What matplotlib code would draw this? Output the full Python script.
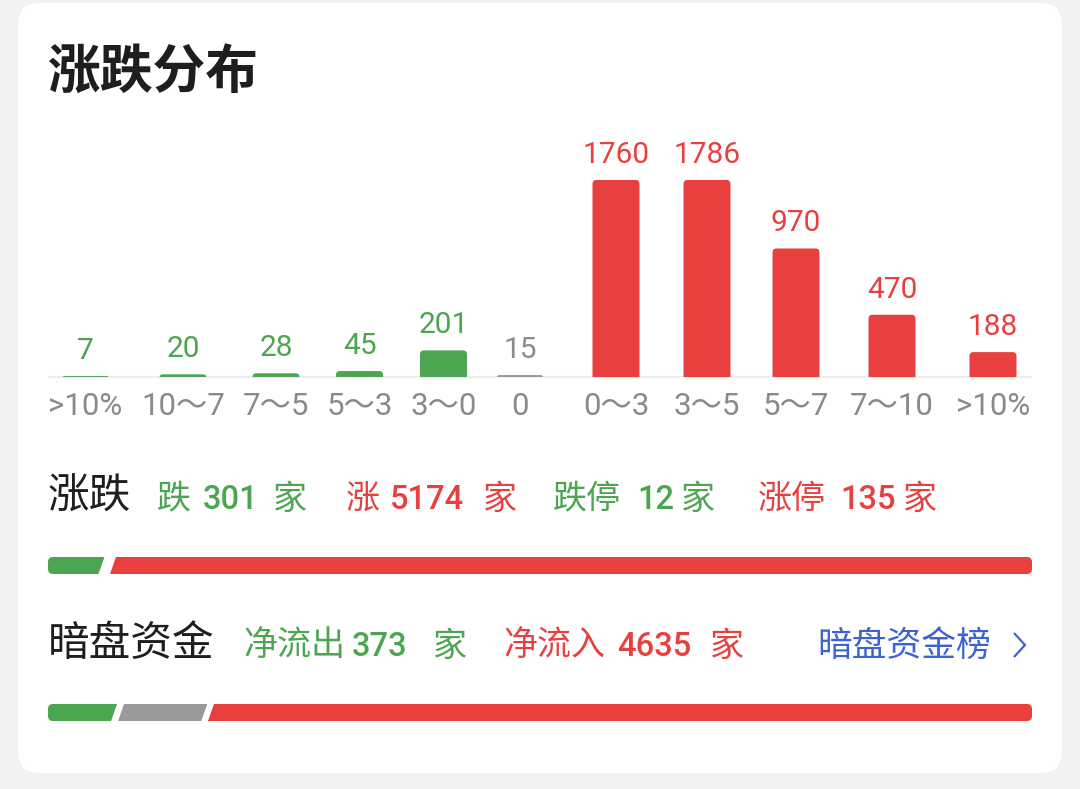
import matplotlib
matplotlib.use("Agg")
import matplotlib.pyplot as plt
from matplotlib.patches import FancyBboxPatch, Polygon
from matplotlib.lines import Line2D
import numpy as np

# ---------------- data ----------------
categories = [">10%", "10～7", "7～5", "5～3", "3～0", "0", "0～3", "3～5", "5～7", "7～10", ">10%"]
counts = [7, 20, 28, 45, 201, 15, 1760, 1786, 970, 470, 188]
direction = ["down", "down", "down", "down", "down", "flat", "up", "up", "up", "up", "up"]

title = "涨跌分布"
row1_label = "涨跌"
fall_count = 301
rise_count = 5174
limit_down_count = 12
limit_up_count = 135

row2_label = "暗盘资金"
net_out_count = 373
net_in_count = 4635
neutral_flow_count = 470  # unlabeled grey segment, estimated from its width
link_text = "暗盘资金榜"

# ---------------- style / layout ----------------
RED = "#E8403F"
GREEN = "#4CA550"
GREY_BAR = "#9A9A9A"
GREY_TXT = "#8A8A8A"
BLUE = "#3D62D3"
DARK = "#1E1E1E"
color_of = {"down": GREEN, "flat": "#8C8C8C", "up": RED}

x_centers = [85.5, 183, 276, 359.5, 443.5, 520, 616, 707, 796, 892, 993]  # px
bar_width = 47
px_per_unit = 0.1325
display_cap = 1487          # tallest bars are drawn at a fixed maximum height
base_px = 377               # baseline (pixel from top)
top_px = 120

CJK = ["Noto Sans CJK SC", "DejaVu Sans"]
NUM = ["Roboto", "Noto Sans CJK SC", "DejaVu Sans"]

W, H = 1080, 789
fig = plt.figure(figsize=(W / 100, H / 100), dpi=100)
fig.patch.set_facecolor("#F2F2F2")

bg = fig.add_axes([0, 0, 1, 1])
bg.set_xlim(0, W)
bg.set_ylim(H, 0)
bg.axis("off")

# card
bg.add_patch(FancyBboxPatch((18, 3), 1044, 770, boxstyle="round,pad=0,rounding_size=22",
                            fc="white", ec="none", zorder=0))

# title
bg.text(48, 88, title, fontsize=38, fontweight="bold", color=DARK, family=CJK,
        ha="left", va="baseline")

# baseline of bar chart
bg.plot([48, 1032], [base_px, base_px], color="#EDEDED", lw=1.6, solid_capstyle="butt", zorder=1)

# ---------------- bar chart ----------------
ax_h_px = base_px - top_px
ax = fig.add_axes([0, (H - base_px) / H, 1, ax_h_px / H])
ax.patch.set_alpha(0)
ax.axis("off")
ax.set_xlim(0, W)
ytop = ax_h_px / px_per_unit
ax.set_ylim(0, ytop)
asp = ytop / ax_h_px  # data units (y) per pixel; x is 1 unit per pixel

bar_colors = [GREY_BAR if d == "flat" else color_of[d] for d in direction]
disp = np.minimum(np.array(counts, dtype=float), display_cap)
bars = ax.bar(x_centers, disp, width=bar_width, color=bar_colors)
r = 4.0
for b in bars:
    b.set_visible(False)
    x, w, h = b.get_x(), b.get_width(), b.get_height()
    h_px = h / asp
    total_px = h_px + r
    r_eff = min(r, total_px / 2.0)
    p = FancyBboxPatch((x, -r * asp), w, h + r * asp,
                       boxstyle=f"round,pad=0,rounding_size={r_eff}",
                       mutation_aspect=asp, fc=b.get_facecolor(), ec="none")
    ax.add_patch(p)

for xc, v, d, dv, lab in zip(x_centers, counts, direction, disp, categories):
    ax.annotate(str(v), (xc, dv), xytext=(0, 17 * 0.72), textcoords="offset points",
                ha="center", va="baseline", fontsize=21.5, color=color_of[d], family=NUM,
                annotation_clip=False)
    ax.annotate(lab, (xc, 0), xytext=(0, -38 * 0.72), textcoords="offset points",
                ha="center", va="baseline", fontsize=22.5, color=GREY_TXT, family=NUM,
                annotation_clip=False)

# ---------------- text rows ----------------
def cjk(x, y, s, color, size=24.5):
    bg.text(x, y, s, fontsize=size, color=color, family=CJK, ha="left", va="baseline")

def num(x, y, s, color, size=23.5):
    bg.text(x, y, s, fontsize=size, color=color, family=NUM, fontweight="medium",
            ha="left", va="baseline")

y1 = 509
bg.text(48, y1, row1_label, fontsize=30, color=DARK, family=CJK, ha="left", va="baseline")
cjk(157, y1, "跌", GREEN); num(203, y1, str(fall_count), GREEN); cjk(273, y1, "家", GREEN)
cjk(346, y1, "涨", RED); num(390, y1, str(rise_count), RED); cjk(483, y1, "家", RED)
cjk(553, y1, "跌停", GREEN); num(637, y1, str(limit_down_count), GREEN); cjk(681, y1, "家", GREEN)
cjk(758, y1, "涨停", RED); num(840, y1, str(limit_up_count), RED); cjk(903, y1, "家", RED)

y2 = 656
bg.text(48, y2, row2_label, fontsize=30, color=DARK, family=CJK, ha="left", va="baseline")
cjk(243, y2, "净流出", GREEN); num(352, y2, str(net_out_count), GREEN); cjk(433, y2, "家", GREEN)
cjk(503, y2, "净流入", RED); num(617, y2, str(net_in_count), RED); cjk(710, y2, "家", RED)
cjk(817, y2, link_text, BLUE, size=25)
bg.add_line(Line2D([1014, 1025, 1014], [633, 645, 657], color=BLUE, lw=1.6,
                   solid_joinstyle="miter", solid_capstyle="butt"))

# ---------------- segmented progress bars ----------------
def seg_bar(values, colors, y_top, y_bot, gap, slant, x0=48, x1=1032, rr=5):
    vals = np.array(values, dtype=float)
    n = len(vals)
    avail = (x1 - x0) - gap * (n - 1)
    widths = vals / vals.sum() * avail
    xl = x0
    for i, (w, c) in enumerate(zip(widths, colors)):
        xr = xl + w
        s = slant / 2.0
        if i == 0:
            tl, bl = xl + rr, xl + rr
            bg.add_patch(FancyBboxPatch((xl, y_top), 3 * rr, y_bot - y_top,
                                        boxstyle=f"round,pad=0,rounding_size={rr}",
                                        fc=c, ec="none", zorder=2))
        else:
            tl, bl = xl + s, xl - s
        if i == n - 1:
            tr, br = xr - rr, xr - rr
            bg.add_patch(FancyBboxPatch((xr - 3 * rr, y_top), 3 * rr, y_bot - y_top,
                                        boxstyle=f"round,pad=0,rounding_size={rr}",
                                        fc=c, ec="none", zorder=2))
        else:
            tr, br = xr + s, xr - s
        bg.add_patch(Polygon([(tl, y_top), (tr, y_top), (br, y_bot), (bl, y_bot)],
                             closed=True, fc=c, ec="none", zorder=2))
        xl = xr + gap

seg_bar([fall_count, rise_count], [GREEN, RED], 557, 574, gap=12, slant=6)
seg_bar([net_out_count, neutral_flow_count, net_in_count], [GREEN, GREY_BAR, RED],
        704, 721, gap=7, slant=6)

fig.savefig("out.png", dpi=100, facecolor=fig.get_facecolor())
